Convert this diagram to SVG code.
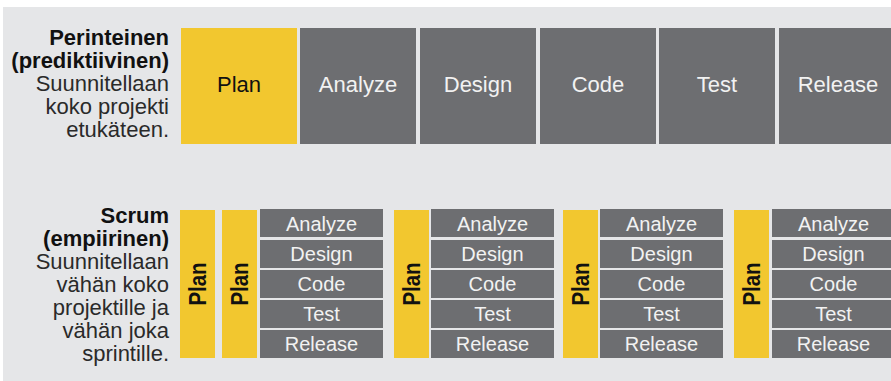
<svg xmlns="http://www.w3.org/2000/svg" width="891" height="381" viewBox="0 0 891 381">
<style>
.bg{fill:#e5e6e8}
.y{fill:#f2c72f}
.g{fill:#6d6e71}
.tb{font-family:"Liberation Sans",Arial,sans-serif;font-size:22px;fill:#111;text-anchor:middle}
.tw{font-family:"Liberation Sans",Arial,sans-serif;font-size:22px;fill:#f2f2f2;text-anchor:middle}
.sw{font-family:"Liberation Sans",Arial,sans-serif;font-size:20px;fill:#f2f2f2;text-anchor:middle}
.vp{font-family:"Liberation Sans",Arial,sans-serif;font-size:23px;font-weight:bold;fill:#111;text-anchor:middle}
.lab{font-family:"Liberation Sans",Arial,sans-serif;font-size:22px;fill:#2a2a2a;text-anchor:end}
.lab .b{font-weight:bold;fill:#111}
</style>
<rect x="0" y="0" width="891" height="381" fill="#ffffff"/>
<rect class="bg" x="3" y="7" width="888" height="374"/>

<g id="label-traditional">
<text class="lab"><tspan class="b" x="169" y="45">Perinteinen</tspan><tspan class="b" x="169" y="68">(prediktiivinen)</tspan><tspan x="169" y="91">Suunnitellaan</tspan><tspan x="169" y="114">koko projekti</tspan><tspan x="169" y="137">etukäteen.</tspan></text>
</g>

<g id="top-plan"><rect class="y" x="181" y="28" width="116" height="116"/><text class="tb" x="239" y="92">Plan</text></g>
<g id="top-analyze"><rect class="g" x="300" y="28" width="116" height="116"/><text class="tw" x="358" y="92">Analyze</text></g>
<g id="top-design"><rect class="g" x="420" y="28" width="116" height="116"/><text class="tw" x="478" y="92">Design</text></g>
<g id="top-code"><rect class="g" x="540" y="28" width="116" height="116"/><text class="tw" x="598" y="92">Code</text></g>
<g id="top-test"><rect class="g" x="659" y="28" width="116" height="116"/><text class="tw" x="717" y="92">Test</text></g>
<g id="top-release"><rect class="g" x="779" y="28" width="116" height="116"/><text class="tw" x="838" y="92">Release</text></g>

<g id="label-scrum">
<text class="lab"><tspan class="b" x="169" y="223">Scrum</tspan><tspan class="b" x="169" y="246">(empiirinen)</tspan><tspan x="169" y="269">Suunnitellaan</tspan><tspan x="169" y="292">vähän koko</tspan><tspan x="169" y="315">projektille ja</tspan><tspan x="169" y="338">vähän joka</tspan><tspan x="169" y="361">sprintille.</tspan></text>
</g>

<g id="scrum-plan-project"><rect class="y" x="180" y="210" width="35" height="148"/><text class="vp" transform="translate(205.5,284) rotate(-90)" textLength="43" lengthAdjust="spacingAndGlyphs">Plan</text></g>

<g id="sprint-1">
<rect class="y" x="222" y="210" width="35" height="148"/><text class="vp" transform="translate(247.5,284) rotate(-90)" textLength="43" lengthAdjust="spacingAndGlyphs">Plan</text>
<rect class="g" x="260" y="209" width="123" height="28"/><text class="sw" x="321.5" y="231">Analyze</text>
<rect class="g" x="260" y="240" width="123" height="28"/><text class="sw" x="321.5" y="261">Design</text>
<rect class="g" x="260" y="270" width="123" height="28"/><text class="sw" x="321.5" y="291">Code</text>
<rect class="g" x="260" y="300" width="123" height="28"/><text class="sw" x="321.5" y="321">Test</text>
<rect class="g" x="260" y="330" width="123" height="28"/><text class="sw" x="321.5" y="351">Release</text>
</g>

<g id="sprint-2">
<rect class="y" x="394" y="210" width="35" height="148"/><text class="vp" transform="translate(419.5,284) rotate(-90)" textLength="43" lengthAdjust="spacingAndGlyphs">Plan</text>
<rect class="g" x="431" y="209" width="123" height="28"/><text class="sw" x="492.5" y="231">Analyze</text>
<rect class="g" x="431" y="240" width="123" height="28"/><text class="sw" x="492.5" y="261">Design</text>
<rect class="g" x="431" y="270" width="123" height="28"/><text class="sw" x="492.5" y="291">Code</text>
<rect class="g" x="431" y="300" width="123" height="28"/><text class="sw" x="492.5" y="321">Test</text>
<rect class="g" x="431" y="330" width="123" height="28"/><text class="sw" x="492.5" y="351">Release</text>
</g>

<g id="sprint-3">
<rect class="y" x="563" y="210" width="35" height="148"/><text class="vp" transform="translate(588.5,284) rotate(-90)" textLength="43" lengthAdjust="spacingAndGlyphs">Plan</text>
<rect class="g" x="600" y="209" width="123" height="28"/><text class="sw" x="661.5" y="231">Analyze</text>
<rect class="g" x="600" y="240" width="123" height="28"/><text class="sw" x="661.5" y="261">Design</text>
<rect class="g" x="600" y="270" width="123" height="28"/><text class="sw" x="661.5" y="291">Code</text>
<rect class="g" x="600" y="300" width="123" height="28"/><text class="sw" x="661.5" y="321">Test</text>
<rect class="g" x="600" y="330" width="123" height="28"/><text class="sw" x="661.5" y="351">Release</text>
</g>

<g id="sprint-4">
<rect class="y" x="734" y="210" width="35" height="148"/><text class="vp" transform="translate(759.5,284) rotate(-90)" textLength="43" lengthAdjust="spacingAndGlyphs">Plan</text>
<rect class="g" x="772" y="209" width="123" height="28"/><text class="sw" x="833.5" y="231">Analyze</text>
<rect class="g" x="772" y="240" width="123" height="28"/><text class="sw" x="833.5" y="261">Design</text>
<rect class="g" x="772" y="270" width="123" height="28"/><text class="sw" x="833.5" y="291">Code</text>
<rect class="g" x="772" y="300" width="123" height="28"/><text class="sw" x="833.5" y="321">Test</text>
<rect class="g" x="772" y="330" width="123" height="28"/><text class="sw" x="833.5" y="351">Release</text>
</g>

<g id="connectors"></g>
</svg>
